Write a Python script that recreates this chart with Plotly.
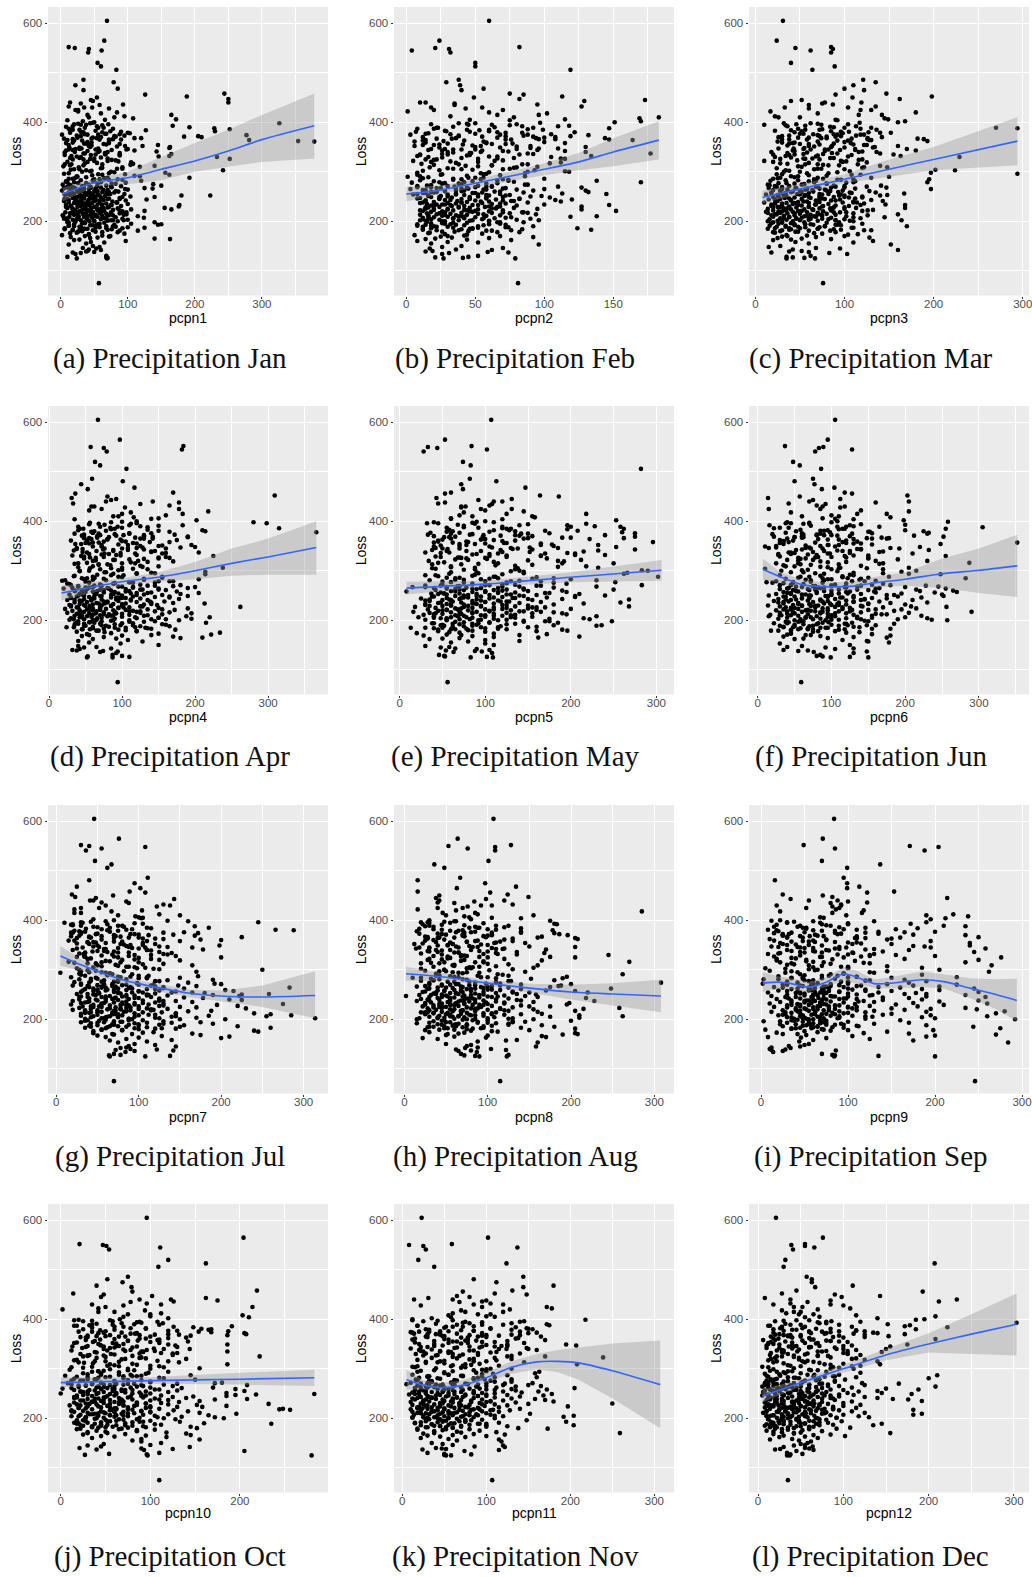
import plotly.graph_objects as go

loss = [
605,565,552,550,548,545,541,520,513,506,486,481,475,468,465,458,456,452,450,447,
445,443,440,438,436,432,430,428,425,422,420,418,415,412,410,408,406,404,402,400,
399,398,396,395,393,392,390,389,388,386,385,384,382,381,380,379,378,377,376,375,
374,373,372,371,370,369,368,367,366,365,364,362,361,360,358,357,355,354,352,350,
349,348,347,346,345,344,343,342,341,340,338,337,336,335,334,332,331,330,328,326,
325,323,322,320,319,318,316,315,313,312,310,309,307,306,304,303,301,300,298,296,
294,293,291,290,288,287,286,285,284,283,282,281,280,279,278,277,276,275,274,272,
271,271,270,270,269,268,268,267,267,266,265,265,264,264,263,262,262,261,261,260,
259,259,258,258,257,257,256,256,255,255,254,254,253,253,252,252,251,251,250,250,
249,249,248,248,247,247,246,246,245,245,244,244,243,243,242,242,241,241,240,240,
239,239,238,238,237,237,236,236,235,235,234,234,233,233,232,232,231,231,230,230,
229,229,228,228,227,227,226,226,225,225,224,224,223,223,222,222,221,221,220,220,
219,219,218,218,217,217,216,216,215,215,214,214,213,213,212,212,211,211,210,210,
209,209,208,208,207,207,206,206,205,205,204,204,203,203,202,202,201,201,200,200,
199,198,197,196,195,194,193,192,191,190,189,188,187,186,185,184,183,182,181,180,
179,178,177,175,174,172,171,170,169,168,167,166,165,164,163,162,160,158,157,155,
153,150,148,146,145,143,142,140,139,138,137,136,134,130,128,127,126,125,125,75,
398,396,394,391,389,387,385,383,381,379,377,375,373,371,369,367,365,363,361,359,
357,356,354,353,351,349,347,345,344,342,340,339,337,335,333,331,329,328,326,324,
372,368,364,358,352,346,338,332,327,321,317,314,311,308,305,302,299,297,295,292,
289,288,286,284,283,281,279,277,276,274,273,272,271,270,269,268,267,266,265,264,
263,262,261,260,258,257,255,254,252,251,249,248,246,245,243,242,240,238,236,234,
233,231,229,228,226,224,222,220,218,216,214,212,210,208,206,204,202,200,198,196,
195,194,193,192,191,190,189,188,187,186,185,184,183,182,181,179,178,176,173,170,
395,385,375,365,355,345,335,325,315,305,295,285,425,415,405,440,435,430,410,368,
397,392,387,382,376,370,363,356,350,343,336,330,322,315,309,303,297,291,285,279,
389,380,372,366,359,352,346,340,334,327,320,313,306,300,294,288,282,276,270,266,
262,257,253,249,245,241,237,233,229,225,221,217,213,209,205,201,197,193,189,185,
259,254,250,246,242,238,234,230,226,222,218,214,210,206,202,198,194,190,186,182,
]

pcpn1 = [
69,65,12,21,42,61,41,55,60,83,34,79,22,85,34,244,126,188,54,250,
45,48,250,30,93,12,47,72,22,26,84,60,165,95,42,108,172,10,33,50,
48,326,71,38,167,18,192,56,229,252,14,127,230,30,62,100,103,66,88,2,
277,95,205,184,210,25,120,46,78,90,281,354,378,40,8,35,68,145,122,163,
13,162,31,100,52,76,110,58,143,21,88,36,165,67,45,162,146,233,28,252,
18,82,70,10,105,54,108,6,34,140,118,27,60,92,15,242,44,75,156,5,
162,47,118,25,192,65,12,85,72,30,120,50,8,20,97,38,55,138,3,150,
90,32,10,75,45,20,60,125,5,137,42,35,100,15,70,28,2,55,82,25,
35,62,12,80,44,28,55,20,70,95,8,48,38,15,223,180,66,30,104,52,
140,25,60,45,18,88,35,72,10,52,42,128,30,64,22,97,5,50,40,77,
12,58,33,83,47,20,68,28,100,38,55,8,75,177,43,15,90,30,62,176,
50,25,70,37,155,10,85,45,60,18,105,165,32,78,55,22,125,42,92,65,
28,48,7,75,38,58,15,88,33,68,98,45,20,52,72,3,40,62,27,115,
55,13,82,35,47,124,25,68,5,92,40,60,18,100,30,75,50,10,43,85,
22,140,65,36,105,150,145,48,12,78,28,58,125,92,40,6,70,18,115,32,
52,85,24,95,42,2,62,36,72,15,55,44,140,163,28,20,97,45,65,38,
12,48,58,33,53,42,60,40,38,50,18,30,22,68,10,68,70,24,69,57,
44,20,62,8,36,78,28,52,90,14,68,40,24,82,48,5,58,32,72,18,
38,64,12,46,84,28,56,98,18,40,70,6,34,52,88,24,60,14,44,76,
30,54,10,72,42,22,66,16,50,86,36,104,4,62,28,46,80,12,56,110,
38,70,18,92,48,8,60,26,82,42,14,68,34,54,76,10,44,22,96,30,
64,16,50,86,28,40,74,6,58,34,92,20,46,70,12,52,30,84,24,62,
42,8,72,36,54,18,88,28,60,14,46,78,4,38,66,24,94,50,10,32,
58,20,80,44,12,68,30,100,52,6,36,76,18,48,88,26,62,14,42,74,
30,18,56,72,44,12,88,34,62,20,96,50,26,40,66,14,58,35,80,110,
26,54,12,74,36,60,20,88,44,8,66,30,50,16,92,38,72,24,58,10,
64,34,80,18,46,96,28,56,6,70,40,14,84,32,62,22,48,76,16,52,
30,68,14,50,88,24,42,76,8,36,60,18,94,46,26,70,12,54,82,34,
72,20,44,6,58,84,32,16,64,40,98,24,52,10,78,36,56,20,68,28,
]
pcpn2 = [
60,24,82,21,31,4,32,50,50,119,38,29,39,56,40,75,85,113,49,82,
173,129,14,35,95,127,18,43,70,1,60,102,96,32,183,169,115,75,170,151,
97,38,80,45,118,110,64,23,147,88,99,53,29,7,122,72,16,50,105,3,
132,85,119,92,12,66,144,33,108,147,164,27,56,100,115,77,41,20,6,130,
68,90,110,18,34,95,55,115,74,130,47,177,26,82,10,134,60,105,40,115,
22,70,5,52,112,36,11,88,62,43,95,17,30,75,48,93,115,118,8,58,
25,68,86,1,45,12,100,54,34,66,138,20,78,170,4,28,58,40,88,15,
62,8,110,35,50,18,127,72,25,45,100,3,58,80,14,130,92,40,28,68,
132,22,55,85,12,48,113,36,68,145,5,30,75,42,16,60,98,25,52,90,
18,70,33,104,46,10,58,82,24,40,65,120,108,28,50,14,76,37,112,60,
20,44,88,12,55,30,72,36,62,15,100,26,48,147,18,80,42,33,68,127,
24,57,16,38,78,46,14,65,30,95,52,127,20,42,70,34,152,12,60,26,
48,18,85,28,62,40,15,75,32,52,22,94,44,10,68,36,58,26,138,16,
30,119,50,20,72,12,42,64,90,34,18,55,24,80,38,96,14,46,60,28,
15,85,44,26,68,8,36,56,18,92,30,74,52,124,12,40,134,22,62,45,
35,82,17,55,28,6,42,68,25,92,33,60,21,14,44,76,8,30,52,18,
96,40,26,70,17,36,62,19,14,59,74,31,26,52,45,21,41,27,79,81,
50,18,75,34,92,8,60,28,46,84,14,68,38,55,100,22,72,42,6,58,
30,62,12,48,80,24,96,40,16,70,54,34,88,10,44,66,26,78,52,20,
72,36,14,58,90,28,46,8,66,32,104,20,52,78,40,12,60,86,26,44,
16,56,34,74,10,48,24,66,38,86,18,52,30,62,8,44,22,70,36,56,
12,42,28,64,20,50,8,36,72,16,46,58,24,82,32,14,54,40,68,28,
52,20,38,14,62,30,10,46,70,24,56,16,40,76,34,12,48,26,66,18,
28,60,14,42,8,52,22,72,34,18,46,84,12,38,58,26,66,16,44,30,
62,44,88,76,24,50,30,14,84,70,56,40,20,66,46,10,35,55,78,94,
44,84,20,60,32,108,12,72,50,26,92,16,64,38,80,24,54,10,70,42,
22,66,38,96,14,54,80,30,46,112,18,62,34,88,8,50,74,26,58,40,
36,14,58,24,46,78,10,32,66,20,50,88,28,42,16,60,34,72,12,48,
18,52,30,8,70,40,22,60,14,44,84,26,38,56,10,68,32,20,48,76,
]
pcpn3 = [
31,24,85,45,87,62,85,40,89,64,121,135,110,100,122,147,90,198,109,162,
52,40,119,75,87,135,33,60,118,17,180,70,142,22,26,145,149,92,168,160,
117,32,46,10,56,113,88,270,294,75,136,40,85,105,127,152,98,50,65,122,
70,113,30,90,142,48,80,182,189,58,130,193,25,100,107,38,72,125,160,85,
132,55,43,170,62,95,180,78,120,18,36,140,54,155,108,163,68,229,88,28,
72,47,10,98,125,60,36,115,82,140,52,148,24,70,202,224,106,32,197,294,
118,60,40,150,130,25,76,195,92,48,17,112,66,193,102,35,80,55,14,141,
100,22,70,125,30,147,85,45,15,112,58,197,36,78,20,50,98,28,128,65,
40,93,18,135,60,108,167,30,82,47,12,75,148,25,100,140,55,35,72,120,
20,88,44,105,62,33,112,75,28,52,95,15,130,40,68,85,143,25,58,110,
48,72,10,98,35,60,122,22,82,42,146,67,30,168,90,52,18,105,75,38,
60,25,88,46,168,113,32,72,14,100,55,40,132,65,20,85,120,48,76,30,
42,12,95,58,28,70,110,36,80,50,160,22,62,90,44,126,75,32,102,55,
68,20,38,145,85,52,118,28,75,46,100,16,60,35,90,164,25,70,110,42,
30,55,80,18,120,44,65,96,34,170,24,72,108,50,14,88,38,130,60,28,
45,90,22,75,115,35,58,100,30,68,128,25,52,85,40,20,132,45,110,60,
152,28,15,68,95,42,160,52,38,60,18,83,103,62,35,42,55,67,35,76,
62,104,34,84,130,48,72,22,96,140,54,118,38,80,60,108,30,92,70,44,
88,50,122,36,66,100,26,78,112,44,136,58,92,20,70,104,40,84,56,116,
96,74,128,42,60,112,86,34,54,102,28,76,48,120,66,38,92,58,24,80,
44,70,20,96,34,60,110,26,80,52,16,88,38,68,24,100,46,72,30,56,
64,28,84,42,106,18,72,50,94,32,60,120,38,78,22,90,54,110,30,68,
48,76,20,100,36,64,126,26,88,44,70,18,58,110,32,82,50,14,94,40,
26,62,90,44,16,78,34,56,110,22,70,40,96,30,84,48,20,66,104,36,
74,56,92,38,110,82,44,120,70,100,30,66,130,116,90,78,60,104,50,126,
70,36,118,52,88,26,104,60,134,42,76,22,96,56,122,34,82,48,110,66,
100,44,72,126,30,86,54,116,38,64,20,94,74,50,108,28,68,44,90,58,
80,34,56,100,22,68,44,118,28,86,52,14,74,38,62,106,30,92,48,70,
52,96,26,72,40,114,18,60,84,34,102,24,66,46,90,20,56,78,38,122,
]
pcpn4 = [
67,97,184,57,75,182,79,63,70,106,59,101,44,117,53,170,36,309,80,31,
92,85,142,178,33,165,62,104,178,55,218,112,183,160,88,116,150,35,202,120,
100,280,298,68,76,183,125,40,135,315,47,85,210,150,214,58,366,60,110,35,
90,172,70,45,130,190,190,118,55,142,80,175,30,100,165,60,120,36,195,150,
72,200,180,108,160,46,130,88,34,65,140,205,98,155,55,120,32,225,75,165,
48,110,90,60,170,135,52,100,80,68,125,150,40,238,115,70,95,55,214,140,
120,214,85,35,60,100,155,45,75,205,130,22,18,165,50,110,145,90,25,70,
180,30,135,62,170,95,40,200,115,55,190,80,150,20,105,70,125,45,160,85,
35,110,60,175,90,50,140,75,205,120,42,95,180,65,28,130,155,85,48,100,
70,190,38,115,55,145,85,165,100,30,62,125,48,178,92,72,25,135,112,58,
45,95,75,158,52,120,35,80,170,65,105,213,42,88,130,60,148,28,100,72,
85,50,125,30,262,70,110,40,150,95,60,190,78,22,135,55,105,172,42,88,
32,115,65,145,90,48,165,75,25,125,55,195,100,38,82,155,60,110,45,70,
130,35,80,188,58,100,220,42,150,72,30,120,90,195,48,140,65,28,110,178,
85,40,130,55,215,100,70,155,35,115,48,165,60,24,90,135,75,45,173,105,
65,120,38,234,85,52,222,140,100,45,170,75,210,180,92,60,108,40,128,55,
98,150,40,65,48,85,42,32,38,74,94,70,92,87,100,53,110,52,87,94,
85,120,55,150,70,100,42,135,78,165,60,110,48,92,142,66,125,80,52,105,
68,115,44,95,155,60,128,76,38,108,88,140,52,118,72,98,48,160,64,130,
102,82,58,138,72,120,46,92,150,64,112,35,84,128,56,100,42,76,145,66,
34,95,62,130,48,78,170,110,55,88,28,125,70,145,40,100,60,115,32,82,
52,150,75,36,105,62,135,88,45,120,72,165,30,96,58,112,42,80,140,68,
100,48,85,128,38,70,155,60,110,42,92,75,135,52,118,66,34,88,145,56,
62,115,40,90,160,72,50,125,82,34,105,60,140,46,95,68,120,76,150,55,
112,90,68,130,55,100,76,150,40,85,120,62,72,100,140,78,125,58,95,48,
56,110,84,40,140,66,98,50,125,74,160,44,88,118,60,135,78,102,52,150,
94,62,130,48,75,108,38,145,82,56,122,68,100,42,88,155,60,115,72,50,
128,46,88,62,105,35,75,140,56,95,70,120,42,85,150,60,110,48,78,132,
66,112,40,92,58,138,76,30,102,52,125,64,88,45,160,72,36,98,118,56,
]
pcpn5 = [
107,53,84,33,44,102,28,74,83,282,82,113,72,147,74,60,53,164,186,43,
131,92,110,53,45,105,77,72,131,100,145,75,218,70,155,158,60,120,253,100,
90,40,32,218,68,196,228,258,75,120,262,196,128,208,135,55,260,70,275,150,
85,33,240,140,155,275,97,200,262,60,222,110,45,120,296,40,165,70,232,180,
40,253,108,185,138,56,275,118,232,78,152,30,196,205,90,240,125,165,48,100,
172,65,212,34,192,110,45,250,72,155,135,218,60,232,42,88,283,290,145,266,
262,120,30,85,302,160,55,180,105,200,65,230,140,100,50,252,75,125,195,135,
283,105,30,165,70,230,120,15,55,180,95,40,85,145,65,250,125,110,75,190,
150,60,8,100,195,85,135,48,170,115,70,37,210,90,125,55,160,105,240,75,
65,145,40,95,205,120,80,172,55,132,25,105,70,190,268,90,50,155,115,30,
85,35,128,62,165,100,258,72,45,140,110,215,55,90,180,75,30,125,60,150,
95,50,135,268,75,18,170,110,42,85,150,65,120,200,33,100,160,55,80,130,
45,105,70,145,16,90,180,60,125,35,85,155,50,110,70,195,28,135,95,65,
120,75,230,40,100,155,60,22,135,85,215,48,175,110,70,222,30,125,55,92,
145,248,65,105,185,38,85,125,50,236,230,75,160,95,13,40,115,60,190,80,
196,45,100,70,20,172,55,140,28,85,210,110,162,70,50,35,100,140,80,60,
100,110,30,58,48,65,90,105,54,88,96,63,108,46,52,53,102,83,109,56,
110,45,150,75,200,92,130,58,170,105,36,142,82,118,65,190,98,50,135,78,
62,122,88,178,48,105,152,70,132,38,95,215,58,115,85,165,42,125,72,102,
135,58,100,80,165,42,120,205,70,150,52,92,112,185,38,75,130,60,145,88,
45,110,70,155,95,35,130,60,180,85,120,50,100,160,68,140,30,78,115,55,
90,145,42,120,65,100,175,52,130,80,205,38,110,72,150,58,95,125,48,85,
60,120,35,95,160,72,110,50,140,85,190,40,100,68,130,55,82,115,170,75,
105,40,135,70,90,180,52,118,62,150,30,100,78,125,45,85,160,58,110,72,
88,125,60,145,100,50,170,78,115,138,92,65,95,125,60,120,108,72,85,52,
85,140,55,110,175,40,95,125,70,155,48,105,80,190,60,135,90,42,115,165,
120,62,98,150,45,78,130,55,105,68,185,38,88,140,58,112,75,125,48,95,
70,115,45,90,135,60,100,30,80,125,55,165,72,110,40,95,145,62,85,50,
100,52,140,75,35,118,88,60,155,68,105,42,130,78,55,175,92,48,115,65,
]
pcpn6 = [
105,95,37,89,83,128,78,48,57,86,75,50,77,104,87,118,128,203,57,14,
112,75,205,160,42,80,88,112,15,140,205,45,175,100,110,180,88,130,198,108,
258,40,38,70,200,16,130,120,305,22,255,110,200,85,225,152,98,232,60,230,
20,62,100,212,125,252,50,168,178,155,82,30,120,35,115,352,140,248,96,25,
10,220,70,15,192,135,60,232,108,90,165,45,125,210,28,80,150,255,100,55,
65,190,40,230,85,120,287,25,110,72,140,50,95,205,10,170,60,215,195,130,
205,248,30,85,178,115,55,282,140,100,65,90,160,145,72,12,20,35,120,155,
180,45,228,100,75,245,135,60,200,120,85,165,255,40,30,110,215,150,70,265,
90,220,55,125,35,270,160,240,80,45,195,110,25,140,250,65,100,185,15,72,
130,252,50,190,95,38,115,222,70,155,60,175,105,28,85,145,45,210,120,68,
22,95,165,42,130,75,230,110,55,180,90,35,150,70,120,200,48,100,14,82,
140,60,208,30,105,256,78,170,45,125,88,215,55,115,35,195,68,150,95,25,
72,185,40,110,290,60,140,85,30,205,120,50,160,95,68,175,17,130,45,100,
55,222,80,15,135,100,200,65,155,40,120,230,85,28,190,75,110,236,50,257,
145,62,38,96,128,22,185,80,50,160,110,70,35,138,92,58,180,118,75,45,
18,105,75,120,45,155,40,65,180,85,35,130,175,95,62,50,115,148,150,178,
30,125,60,40,92,130,105,35,68,55,148,76,130,85,80,88,125,99,150,59,
100,45,140,72,165,30,118,58,90,150,38,128,80,108,22,60,175,95,48,135,
78,120,35,155,65,105,25,88,140,52,115,170,42,98,68,130,30,82,150,58,
90,62,130,42,110,180,75,28,120,55,95,165,35,85,148,68,108,45,78,125,
115,58,150,38,95,72,128,48,88,170,62,105,30,140,78,52,118,90,42,160,
68,135,48,100,158,80,40,122,60,175,92,35,112,70,145,52,85,130,28,98,
55,110,78,142,38,95,160,65,125,48,85,168,30,105,72,135,58,92,150,42,
88,40,120,62,100,148,75,50,130,35,95,68,155,55,110,28,82,138,45,72,
62,115,85,40,130,72,95,150,55,110,170,122,85,135,105,70,92,118,60,50,
70,125,42,95,155,60,110,30,85,140,50,118,75,170,38,100,62,130,88,25,
108,52,80,148,35,95,65,125,45,78,160,58,112,32,90,70,138,48,100,82,
78,120,45,95,60,140,35,108,72,50,128,88,40,155,65,100,55,118,30,85,
52,100,70,130,38,88,150,60,115,45,78,105,32,95,140,58,82,122,48,68,
]
pcpn7 = [
46,76,30,40,108,55,36,47,67,62,111,40,95,25,102,89,108,19,69,23,
48,143,41,85,55,130,138,122,52,22,104,67,30,125,150,96,100,103,45,70,
135,160,245,10,105,62,20,80,168,50,185,115,92,266,288,75,28,35,155,18,
172,30,90,142,112,168,55,40,225,100,70,130,175,200,150,80,38,60,120,105,
198,85,45,135,165,75,100,58,178,110,50,70,125,88,140,33,68,95,145,25,
200,42,115,80,150,60,15,100,38,130,72,165,55,88,108,25,125,250,48,170,
5,65,92,30,112,172,75,18,150,100,50,85,190,135,42,120,70,22,160,192,
200,58,100,30,80,148,20,68,170,120,40,90,283,55,130,75,155,110,35,50,
85,205,60,125,45,215,100,145,70,30,165,92,52,180,120,78,258,25,110,225,
48,190,95,135,65,222,80,30,115,55,155,72,178,100,40,125,88,60,210,28,
225,75,50,105,20,145,85,60,165,38,120,70,30,95,55,130,275,80,18,112,
45,195,88,65,220,125,32,100,55,150,72,170,28,85,230,110,42,135,62,78,
20,118,50,90,70,188,35,160,82,55,105,128,40,68,240,95,145,30,75,260,
112,50,285,80,30,185,65,255,140,95,42,75,170,120,58,314,88,35,150,205,
60,105,35,130,80,175,50,95,190,70,125,155,40,220,85,110,260,60,145,100,
55,80,240,245,118,45,165,92,70,175,50,128,210,60,100,200,85,140,65,110,
75,95,120,88,145,85,78,90,122,72,142,95,84,70,78,64,138,108,65,70,
60,30,95,18,75,45,110,36,85,22,65,130,50,100,28,78,42,120,55,15,
70,38,105,25,82,50,125,32,92,60,20,115,44,75,28,135,55,88,35,100,
48,72,25,110,40,88,58,130,34,95,65,22,105,75,45,118,38,82,55,28,
62,35,90,48,110,28,75,125,55,40,98,30,68,85,50,115,38,72,130,60,
88,45,120,62,32,100,75,140,52,38,85,110,60,28,95,70,48,125,40,80,
105,55,78,130,42,90,65,115,35,85,50,145,72,100,45,60,125,92,38,70,
78,58,110,42,130,68,88,50,100,75,150,62,35,95,120,55,80,45,105,68,
32,65,20,88,48,108,35,75,55,95,40,78,30,22,105,45,88,60,75,18,
42,20,82,55,30,70,105,45,90,25,62,115,38,78,50,98,30,68,110,58,
30,62,95,40,22,78,52,110,35,70,125,48,85,28,60,100,42,75,118,55,
92,50,75,112,38,68,130,58,85,45,100,72,35,120,62,88,52,140,70,42,
70,105,45,85,60,125,35,95,52,78,115,42,68,145,55,88,30,100,65,128,
]
pcpn8 = [
107,64,128,53,109,76,109,101,36,48,67,16,97,134,63,16,103,124,42,149,
38,98,42,84,40,130,105,76,70,16,62,285,46,88,155,72,78,140,80,30,
175,60,20,30,180,183,72,110,25,120,90,140,100,45,178,65,15,140,80,105,
180,18,186,50,196,70,95,165,28,160,205,208,120,35,85,115,55,145,12,100,
40,78,62,205,18,105,14,110,170,55,90,30,135,65,168,95,45,245,75,175,
205,52,120,28,165,68,270,85,42,100,60,160,110,35,155,75,130,48,25,145,
90,70,262,118,38,55,195,100,10,190,152,42,75,180,20,128,60,110,308,115,
200,65,30,140,85,188,45,105,185,15,70,175,125,50,95,248,28,75,140,100,
60,115,170,40,80,205,130,25,70,95,220,150,55,110,35,85,135,65,45,158,
80,18,120,50,2,145,70,100,30,160,60,90,40,218,75,125,20,55,110,85,
42,135,68,95,228,15,78,110,52,155,32,85,198,62,120,45,72,100,25,195,
82,55,140,35,105,65,175,22,92,50,130,75,258,45,115,28,85,215,60,155,
38,100,70,30,205,125,58,85,45,160,20,110,75,52,95,35,165,68,140,25,
55,120,80,210,42,95,262,65,175,30,108,72,48,210,18,130,85,60,155,15,
70,100,200,35,145,55,88,15,125,75,45,165,105,62,180,28,95,52,205,75,
42,150,80,112,30,205,65,208,190,50,100,165,60,170,98,22,40,135,122,88,
160,50,80,75,158,88,73,104,62,122,80,65,87,68,125,72,85,123,90,115,
62,28,95,45,125,35,78,18,110,55,85,140,40,70,100,25,60,130,48,88,
75,38,108,22,92,52,150,65,30,118,80,45,100,60,20,135,72,35,90,55,
105,72,40,130,58,88,28,112,68,45,95,32,125,60,82,20,102,50,75,38,
42,88,60,20,110,70,35,125,52,85,30,98,62,45,78,115,25,68,92,40,
58,30,80,105,48,68,22,130,62,38,90,72,112,45,55,82,28,140,65,98,
72,42,95,60,150,35,80,55,120,68,28,105,50,85,65,40,100,75,48,130,
88,50,30,110,65,40,125,75,58,95,35,70,140,48,82,60,25,105,72,52,
55,88,72,42,110,30,65,100,48,78,58,92,40,85,105,120,60,92,50,72,
48,22,85,35,62,105,28,75,52,120,40,68,30,95,58,80,42,112,65,35,
30,70,45,98,25,58,82,38,110,52,72,20,90,48,65,125,32,78,55,100,
85,48,62,32,105,72,55,25,90,42,115,68,35,78,58,125,45,100,60,30,
68,38,95,52,78,30,120,60,45,88,70,25,105,55,40,82,130,62,48,92,
]
pcpn9 = [
84,71,49,171,204,85,188,70,137,99,95,16,99,113,99,153,122,25,71,82,
214,34,55,100,122,92,18,82,52,86,118,22,116,221,190,238,68,212,195,22,
12,130,190,30,172,100,75,210,235,90,48,180,155,110,60,85,20,200,165,120,
15,135,25,175,235,65,45,110,250,160,120,10,145,75,195,35,100,240,150,55,
240,175,188,20,195,60,258,90,120,170,35,140,245,50,106,8,100,155,200,70,
276,40,165,250,18,108,60,235,125,80,30,265,145,100,185,5,55,205,10,262,
130,95,45,185,70,20,110,225,150,35,85,3,165,50,120,190,30,100,170,2,
145,60,225,25,90,175,45,110,80,205,135,15,55,160,70,245,100,35,185,120,
58,205,70,20,120,150,42,90,250,62,135,8,178,75,45,100,165,190,30,110,
65,235,50,125,12,80,190,100,258,58,140,30,72,170,45,95,18,110,60,185,
70,140,35,250,62,118,205,80,22,130,50,95,175,68,10,260,42,108,155,75,
55,210,30,90,125,68,180,45,110,15,60,100,235,78,150,40,195,85,248,65,
40,165,72,25,130,55,280,90,12,190,62,120,35,100,45,270,75,150,28,85,
58,140,195,20,80,105,45,260,65,128,30,185,90,50,72,200,38,120,60,292,
42,160,75,3,100,55,170,68,130,22,85,190,48,112,244,60,95,275,35,70,
5,198,80,145,65,118,170,25,270,52,200,105,190,8,46,75,125,60,175,44,
284,55,50,32,45,12,34,10,28,12,86,25,14,70,82,85,135,200,84,246,
60,30,100,18,80,42,120,52,8,70,135,35,92,62,25,110,48,150,75,15,
55,85,22,115,40,70,12,98,50,130,30,78,62,105,20,88,45,125,68,35,
32,72,108,48,25,90,60,130,15,82,52,118,38,70,100,28,62,145,42,95,
50,88,110,35,70,20,125,55,92,42,65,100,80,30,58,115,48,75,95,25,
62,42,78,105,55,30,90,68,50,72,128,60,82,40,66,98,75,52,112,35,
58,72,45,85,65,30,105,52,78,42,62,95,70,48,120,35,88,55,68,22,
48,70,30,60,92,40,75,52,110,25,65,82,45,58,35,72,100,50,18,42,
68,52,85,30,110,45,70,95,22,60,125,100,90,82,72,88,80,92,98,56,
38,70,15,95,50,25,110,62,30,85,45,125,18,72,55,100,35,80,48,60,
45,18,88,30,60,105,42,75,22,115,52,35,92,65,28,78,48,100,58,72,
55,78,40,65,28,90,50,70,35,100,60,45,82,25,68,52,38,75,95,58,
72,45,60,85,32,55,68,42,78,50,110,28,62,90,48,35,72,55,65,40,
]
pcpn10 = [
96,204,21,47,51,111,54,120,162,109,75,52,69,40,79,219,80,14,48,102,
45,162,123,175,126,96,112,70,214,42,2,94,42,112,75,203,100,210,120,66,
20,15,58,108,90,114,82,35,32,191,126,148,78,157,168,165,44,120,187,154,
168,68,205,83,207,132,186,145,50,100,30,120,95,60,28,86,142,36,110,70,
186,44,128,62,13,130,80,24,104,144,96,52,72,186,38,112,88,56,125,30,
222,90,40,140,68,18,108,50,132,26,80,186,60,100,35,115,155,75,10,48,
120,65,25,95,45,145,5,85,55,30,110,70,15,40,150,90,22,60,100,180,
172,35,130,75,12,115,48,90,208,28,60,125,42,85,20,100,170,52,135,2,
195,45,68,110,15,80,38,130,205,58,22,95,48,120,72,30,185,62,100,0,
40,283,90,218,25,195,60,112,185,35,78,148,50,125,18,92,65,140,42,105,
208,30,80,172,55,120,22,100,45,155,70,35,132,60,85,15,112,48,95,28,
65,232,120,40,85,152,10,70,185,52,100,30,130,158,75,45,95,20,62,60,
248,110,35,244,80,256,55,126,25,90,45,142,70,15,100,60,155,30,82,50,
196,68,35,120,22,92,55,165,42,105,12,75,135,60,172,28,88,48,115,182,
38,128,70,18,100,55,133,80,30,160,235,45,112,62,25,92,145,50,75,152,
22,65,105,40,85,30,118,52,140,72,25,145,95,45,60,118,35,90,155,80,
90,112,48,100,30,45,144,21,90,125,40,93,205,110,54,96,27,280,97,110,
55,25,85,40,110,15,70,35,95,60,130,20,48,78,105,30,65,140,88,44,
75,38,100,18,62,120,45,85,28,55,115,70,12,90,40,125,60,32,80,50,
42,88,22,108,58,30,78,130,48,95,15,65,36,85,110,25,55,75,42,98,
30,65,90,18,50,115,38,75,25,60,100,45,8,82,35,70,55,20,92,42,
48,78,12,58,105,32,68,22,88,42,62,30,95,52,15,75,38,110,25,68,
35,85,55,18,70,42,100,28,62,12,90,48,75,32,55,20,108,40,65,25,
62,28,92,45,15,72,38,105,52,22,80,35,58,95,42,68,18,85,50,30,
88,60,35,72,110,48,92,25,120,65,42,80,50,60,70,88,78,35,100,55,
35,68,18,95,50,120,28,75,42,60,105,22,88,38,55,12,82,45,70,30,
58,25,85,40,110,15,65,48,92,30,72,20,52,100,35,78,42,12,62,28,
40,72,25,55,90,15,48,65,32,82,20,58,100,38,70,28,50,88,18,45,
60,30,80,18,48,68,38,95,22,55,75,12,42,62,28,85,52,20,72,35,
]
pcpn11 = [
23,102,59,8,25,137,28,19,124,38,144,85,112,180,144,131,72,110,148,65,
80,31,14,100,95,105,120,22,172,178,128,70,75,60,90,55,100,58,35,12,
218,12,145,140,72,130,172,95,175,85,60,135,148,150,155,130,70,85,45,20,
10,160,150,14,40,130,80,95,50,165,100,138,15,50,170,75,60,95,145,20,
195,100,207,118,80,30,65,148,10,124,160,85,45,25,112,55,140,16,90,68,
170,239,35,130,80,18,50,100,145,28,92,208,60,115,12,75,40,130,95,22,
163,50,158,108,12,125,70,30,95,160,20,85,45,130,16,62,105,35,110,10,
155,30,75,122,5,90,40,150,60,18,100,165,135,28,70,50,112,205,22,80,
130,42,172,100,15,60,135,25,85,48,162,120,35,70,142,12,95,55,110,28,
178,62,8,100,45,125,75,168,30,90,52,140,22,72,110,35,85,18,130,60,
158,40,95,15,170,70,120,25,50,105,32,180,82,10,60,135,45,92,250,22,
68,150,38,110,12,80,55,125,28,98,45,197,20,75,115,35,62,90,50,24,
140,30,85,10,68,108,42,128,22,72,55,95,35,115,48,80,18,62,100,28,
45,152,75,32,105,14,60,90,204,25,50,120,192,70,38,85,12,55,110,42,
65,28,95,148,48,75,195,22,115,58,100,35,80,204,45,125,70,28,60,138,
173,52,18,92,38,112,70,259,25,85,122,60,30,100,45,75,22,55,115,65,
118,35,48,60,120,86,122,40,47,52,24,115,74,30,50,82,50,52,58,107,
60,25,95,40,120,18,72,50,105,32,85,140,12,65,45,115,28,78,135,55,
88,38,110,15,70,125,48,95,22,62,150,35,80,55,105,28,72,42,130,60,
45,100,30,78,55,125,20,90,40,65,112,28,50,82,18,70,100,38,60,88,
95,55,72,30,110,42,85,18,65,130,35,58,100,22,78,48,120,62,32,88,
38,70,15,92,50,110,28,62,85,42,20,75,55,100,32,65,12,48,82,58,
25,68,45,95,30,58,78,18,50,105,38,65,22,88,42,72,12,55,32,82,
52,28,75,42,15,62,90,35,55,22,70,45,100,30,60,18,80,48,65,38,
75,52,32,90,65,110,45,125,85,58,100,72,95,120,110,60,68,85,105,140,
42,80,18,105,55,30,70,125,38,92,22,60,110,45,75,15,85,50,32,98,
65,28,95,48,12,78,38,115,58,25,85,42,72,105,18,55,90,32,62,45,
30,72,48,15,90,35,60,100,25,68,42,82,12,55,110,30,75,48,92,38,
55,20,85,40,65,28,105,48,70,18,92,35,58,80,25,45,68,15,100,52,
]
pcpn12 = [
21,76,55,39,55,66,41,32,207,30,57,63,63,111,67,45,193,28,90,143,
98,8,233,85,212,38,18,100,52,108,70,28,42,33,65,115,208,55,140,195,
185,60,86,120,303,80,152,38,178,172,110,222,26,68,185,45,115,30,125,75,
85,135,140,112,172,20,50,95,153,38,125,60,18,208,6,80,32,105,70,12,
175,40,10,100,155,62,90,25,40,150,115,30,80,46,145,15,58,105,120,70,
28,85,20,110,48,125,58,140,18,72,100,143,35,120,5,88,42,112,60,14,
80,30,50,8,95,210,26,65,12,115,44,200,22,72,102,16,55,35,90,18,
122,8,50,165,28,82,12,60,125,38,95,18,208,5,68,45,110,24,75,150,
32,58,188,14,100,42,70,8,140,50,25,118,80,6,60,35,145,105,20,75,
48,180,12,65,112,30,85,5,55,22,95,40,70,125,15,60,35,140,88,28,
158,52,176,22,10,90,45,65,30,192,110,55,20,75,40,8,100,48,62,28,
30,82,12,58,42,120,72,24,50,100,18,65,38,88,8,55,115,28,70,45,
14,78,40,60,182,25,95,48,10,68,32,110,55,22,80,42,6,125,62,35,
75,192,28,52,182,100,18,85,40,66,10,118,48,30,130,58,22,92,35,70,
45,12,80,26,60,98,38,72,18,55,145,30,88,135,8,50,65,22,108,42,
20,60,35,10,75,28,50,155,42,18,85,65,30,102,55,25,70,40,14,48,
62,58,50,55,42,64,30,55,60,26,20,65,45,34,52,38,37,34,37,35,
45,20,70,32,95,12,55,28,85,40,115,60,18,78,125,35,50,100,24,65,
52,85,15,40,68,25,110,36,60,10,92,48,22,75,30,105,55,14,82,42,
62,38,88,20,55,72,28,100,42,115,12,65,30,85,50,95,18,70,40,120,
25,58,10,78,35,48,15,68,90,30,52,12,42,72,22,60,8,38,82,50,
35,12,60,28,85,45,18,68,38,52,8,95,30,62,20,48,75,14,55,40,
58,22,42,72,15,50,32,88,25,62,10,45,78,35,18,55,28,68,12,48,
30,65,15,48,82,25,55,10,38,72,20,45,60,14,35,92,28,52,18,42,
80,28,60,15,95,42,70,22,52,110,35,88,42,50,72,38,58,85,48,30,
30,72,14,52,95,25,40,85,18,60,105,35,48,22,78,12,62,32,90,20,
50,18,80,35,62,12,45,100,28,70,15,55,38,85,22,66,42,10,75,30,
40,15,68,28,50,85,20,42,62,10,35,75,24,55,15,92,45,30,68,18,
22,58,36,78,12,48,28,66,18,42,88,32,56,10,38,72,24,50,14,60,
]

fit_x1 = [3,50,100,150,200,250,300,378]
fit_y1 = [255,278,288,305,322,342,365,393]
fit_lo1 = [240,270,275,283,300,310,320,327]
fit_hi1 = [268,285,300,330,358,385,415,458]
fit_x2 = [0,25,50,75,100,125,150,183]
fit_y2 = [255,263,277,291,305,320,340,364]
fit_lo2 = [240,255,268,281,293,303,311,325]
fit_hi2 = [270,272,285,300,317,338,368,402]
fit_x3 = [8,50,100,150,200,294]
fit_y3 = [248,265,285,305,325,362]
fit_lo3 = [236,255,277,290,303,313]
fit_hi3 = [262,275,295,325,350,410]
fit_x4 = [17,100,150,200,250,300,366]
fit_y4 = [255,278,287,300,315,328,347]
fit_lo4 = [240,270,278,283,290,292,292]
fit_hi4 = [270,285,297,318,345,365,400]
fit_x5 = [8,100,200,306]
fit_y5 = [265,273,287,301]
fit_lo5 = [252,267,277,280]
fit_hi5 = [278,280,297,322]
fit_x6 = [7,30,60,90,130,160,200,250,300,352]
fit_y6 = [303,288,272,268,269,276,283,294,301,310]
fit_lo6 = [282,275,262,260,260,266,270,265,255,247]
fit_hi6 = [325,298,282,277,278,288,297,325,345,373]
fit_x7 = [5,30,50,80,100,130,160,200,250,314]
fit_y7 = [328,310,297,280,272,262,253,247,245,248]
fit_lo7 = [308,298,288,272,265,254,245,236,225,202]
fit_hi7 = [348,322,306,288,279,269,260,258,268,297]
fit_x8 = [2,50,100,150,200,250,308]
fit_y8 = [292,285,273,263,255,251,247]
fit_lo8 = [278,278,267,254,240,228,214]
fit_hi8 = [306,292,279,272,270,273,280]
fit_x9 = [2,20,35,55,75,95,110,130,150,185,210,240,270,294]
fit_y9 = [273,275,272,265,275,292,285,272,273,280,276,263,250,238]
fit_lo9 = [255,262,260,255,265,278,272,263,262,265,262,243,220,196]
fit_hi9 = [295,287,283,276,285,305,298,281,285,297,291,283,281,282]
fit_x10 = [0,100,200,283]
fit_y10 = [272,276,279,282]
fit_lo10 = [262,270,268,265]
fit_hi10 = [283,283,292,298]
fit_x11 = [5,25,45,70,100,130,160,185,210,250,307]
fit_y11 = [278,267,262,266,282,303,314,315,312,296,268]
fit_lo11 = [258,258,254,258,272,290,299,293,278,240,180]
fit_hi11 = [298,277,272,276,293,315,330,338,343,351,357]
fit_x12 = [5,50,100,150,200,250,303]
fit_y12 = [245,272,300,328,350,370,390]
fit_lo12 = [232,264,292,317,333,330,327]
fit_hi12 = [258,279,308,340,372,410,452]

x_ticks = [[0,100,200,300],[0,50,100,150],[0,100,200,300],[0,100,200,300],
           [0,100,200,300],[0,100,200,300],[0,100,200,300],[0,100,200,300],
           [0,100,200,300],[0,100,200],[0,100,200,300],[0,100,200,300]]
captions = ["(a) Precipitation Jan","(b) Precipitation Feb","(c) Precipitation Mar",
            "(d) Precipitation Apr","(e) Precipitation May","(f) Precipitation Jun",
            "(g) Precipitation Jul","(h) Precipitation Aug","(i) Precipitation Sep",
            "(j) Precipitation Oct","(k) Precipitation Nov","(l) Precipitation Dec"]
x_series = [pcpn1,pcpn2,pcpn3,pcpn4,pcpn5,pcpn6,pcpn7,pcpn8,pcpn9,pcpn10,pcpn11,pcpn12]
fit_x = [fit_x1,fit_x2,fit_x3,fit_x4,fit_x5,fit_x6,fit_x7,fit_x8,fit_x9,fit_x10,fit_x11,fit_x12]
fit_y = [fit_y1,fit_y2,fit_y3,fit_y4,fit_y5,fit_y6,fit_y7,fit_y8,fit_y9,fit_y10,fit_y11,fit_y12]
fit_lo = [fit_lo1,fit_lo2,fit_lo3,fit_lo4,fit_lo5,fit_lo6,fit_lo7,fit_lo8,fit_lo9,fit_lo10,fit_lo11,fit_lo12]
fit_hi = [fit_hi1,fit_hi2,fit_hi3,fit_hi4,fit_hi5,fit_hi6,fit_hi7,fit_hi8,fit_hi9,fit_hi10,fit_hi11,fit_hi12]
x_ranges = [[-18.9,398.5],[-8.9,194],[-7.1,307],[-1.4,382],[-6.6,320.6],[-11.8,367.9],
            [-10,329.6],[-12.4,323.6],[-13.8,308],[-14.2,298.3],[-9.9,323.4],[-10.6,317.6]]

W, H = 1032, 1577
cols = [(48,328),(394,674),(749,1029)]
rows = [(7,295.5),(406,694.5),(805,1093.5),(1204,1492.5)]
loss_x = [16,361,716.7]
xlab_y = [318,716.7,1116.7,1513]
cap_x = [170,515,870.5]
cap_y = [359,757,1156,1556]

SANS = "Liberation Sans"
SERIF = "Liberation Serif"
fig = go.Figure()
layout = dict(width=W, height=H, margin=dict(l=0,r=0,t=0,b=0,pad=0,autoexpand=False), paper_bgcolor="white",
              showlegend=False, hovermode=False, plot_bgcolor="#EBEBEB")
anns = []
for i in range(12):
    r, c = i//3, i%3
    sfx = "" if i==0 else str(i+1)
    xs = x_series[i]
    assert len(xs)==len(loss), (i, len(xs), len(loss))
    fig.add_trace(go.Scatter(x=xs, y=loss, mode="markers", xaxis="x"+sfx, yaxis="y"+sfx,
                             marker=dict(color="black", size=4.6, line=dict(width=0))))
    fig.add_trace(go.Scatter(x=fit_x[i]+fit_x[i][::-1], y=fit_hi[i]+fit_lo[i][::-1],
                             mode="lines", fill="toself", xaxis="x"+sfx, yaxis="y"+sfx,
                             fillcolor="rgba(153,153,153,0.4)", line=dict(width=0)))
    fig.add_trace(go.Scatter(x=fit_x[i], y=fit_y[i], mode="lines", xaxis="x"+sfx, yaxis="y"+sfx,
                             line=dict(color="#3366FF", width=1.6, shape="spline", smoothing=0.7)))
    x0,x1 = cols[c]; y0,y1 = rows[r]
    step = x_ticks[i][1]-x_ticks[i][0]
    common = dict(showgrid=True, gridcolor="white", gridwidth=1.3, zeroline=False, showline=False,
                  ticks="outside", ticklen=2.5, tickwidth=1, tickcolor="#333333",
                  tickfont=dict(family=SANS, size=11.5, color="#4D4D4D"), ticklabeloverflow="allow")
    layout["xaxis"+sfx] = dict(common, domain=[x0/W,x1/W], range=x_ranges[i], anchor="y"+sfx,
                               tickvals=x_ticks[i], ticklabelstandoff=-5,
                               minor=dict(dtick=step/2, tick0=0, showgrid=True, gridcolor="white", gridwidth=0.7, ticks=""))
    layout["yaxis"+sfx] = dict(common, domain=[1-y1/H,1-y0/H], range=[50,633], anchor="x"+sfx,
                               tickvals=[200,400,600],
                               minor=dict(dtick=100, tick0=0, showgrid=True, gridcolor="white", gridwidth=0.7, ticks=""))
    anns.append(dict(x=loss_x[c]/W, y=1-((y0+y1)/2)/H, xref="paper", yref="paper", text="Loss", textangle=-90,
                     showarrow=False, xanchor="center", yanchor="middle", font=dict(family=SANS,size=14,color="black")))
    anns.append(dict(x=((x0+x1)/2)/W, y=1-xlab_y[r]/H, xref="paper", yref="paper", text="pcpn%d"%(i+1),
                     showarrow=False, xanchor="center", yanchor="middle", font=dict(family=SANS,size=14,color="black")))
    anns.append(dict(x=cap_x[c]/W, y=1-cap_y[r]/H, xref="paper", yref="paper", text=captions[i],
                     showarrow=False, xanchor="center", yanchor="middle", font=dict(family=SERIF,size=29,color="#111111")))
layout["annotations"] = anns
fig.update_layout(**layout)
fig.write_html("out.html", config=dict(displayModeBar=False),
               post_script="document.body.style.margin='0';document.body.style.overflow='hidden';")
